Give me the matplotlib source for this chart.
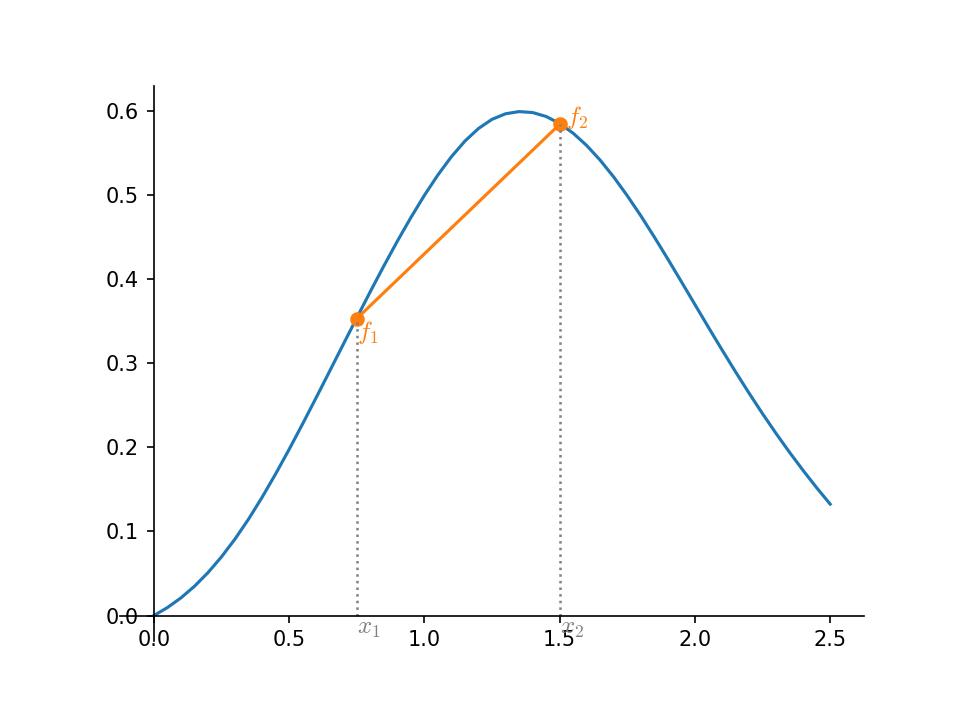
import numpy as np
import matplotlib.pyplot as plt

plt.rcParams['mathtext.fontset'] = 'cm'

# curve
x_vals = [0.00, 0.05, 0.10, 0.15, 0.20, 0.25, 0.30, 0.35, 0.40, 0.45,
          0.50, 0.55, 0.60, 0.65, 0.70, 0.75, 0.80, 0.85, 0.90, 0.95,
          1.00, 1.05, 1.10, 1.15, 1.20, 1.25, 1.30, 1.35, 1.40, 1.45,
          1.50, 1.55, 1.60, 1.65, 1.70, 1.75, 1.80, 1.85, 1.90, 1.95,
          2.00, 2.05, 2.10, 2.15, 2.20, 2.25, 2.30, 2.35, 2.40, 2.45, 2.50]
y_vals = [0.0000, 0.0095, 0.0210, 0.0348, 0.0510, 0.0698, 0.0910, 0.1146, 0.1405, 0.1683,
          0.1975, 0.2279, 0.2590, 0.2906, 0.3223, 0.3538, 0.3850, 0.4155, 0.4450, 0.4731,
          0.4995, 0.5238, 0.5455, 0.5641, 0.5790, 0.5899, 0.5965, 0.5991, 0.5980, 0.5933,
          0.5850, 0.5734, 0.5588, 0.5413, 0.5213, 0.4991, 0.4753, 0.4500, 0.4238, 0.3969,
          0.3698, 0.3427, 0.3160, 0.2899, 0.2645, 0.2400, 0.2165, 0.1940, 0.1725, 0.1520, 0.1325]

# the two secant points
x1, x2 = 0.75, 1.5
f1, f2 = 0.353, 0.584

fig = plt.figure(figsize=(6.4, 4.8), dpi=150)
ax = fig.add_subplot(111)

ax.plot(x_vals, y_vals, color='C0')
ax.plot([x1, x2], [f1, f2], 'o-', color='C1')
ax.plot([x1, x1], [0, f1], ':', color='gray', lw=1.2)
ax.plot([x2, x2], [0, f2], ':', color='gray', lw=1.2)

ax.text(x1, 0, '$x_1$', color='gray', fontsize=12, ha='left', va='top')
ax.text(x2, 0, '$x_2$', color='gray', fontsize=12, ha='left', va='top')
ax.text(x1, f1, '$f_1$', color='C1', fontsize=12, ha='left', va='top')
ax.annotate('$f_2$', (x2, f2), xytext=(3, 0), textcoords='offset points',
            color='C1', fontsize=12, ha='left', va='baseline')

ax.spines['left'].set_position(('data', 0))
ax.spines['bottom'].set_position(('data', 0))
ax.spines['top'].set_visible(False)
ax.spines['right'].set_visible(False)

plt.savefig('out.png', dpi=150)
